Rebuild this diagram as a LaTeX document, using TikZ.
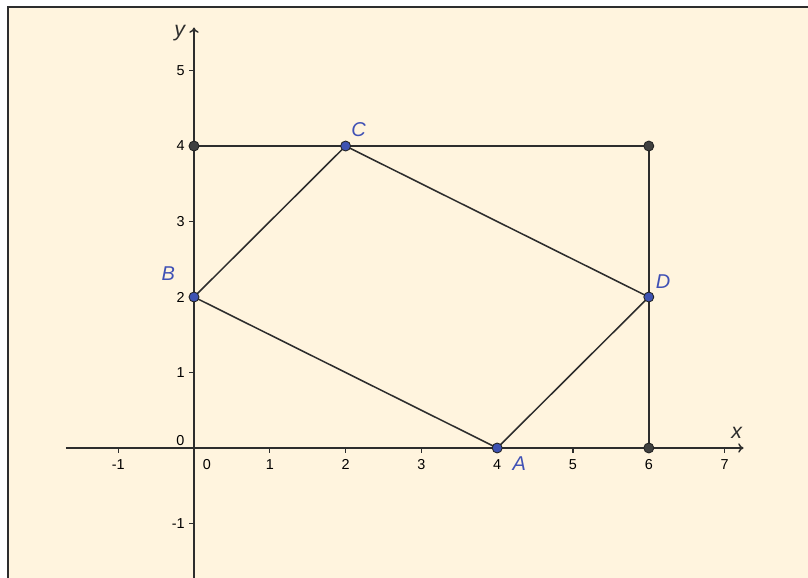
\documentclass[tikz,border=0pt]{standalone}
\usepackage{fontspec}
\setmainfont{Liberation Sans}
\usetikzlibrary{arrows.meta}
\definecolor{bg}{RGB}{255,244,222}
\definecolor{ln}{RGB}{45,45,45}
\definecolor{ptblue}{RGB}{62,82,178}
\definecolor{lblblue}{RGB}{64,81,181}
\definecolor{ptgray}{RGB}{64,64,64}
\tikzset{
  axisline/.style={ln, line width=1.1pt},
  segline/.style={ln, line width=1.15pt},
  tickmark/.style={ln, line width=0.9pt},
  ticklbl/.style={inner sep=0pt, font=\fontsize{10.8}{12}\selectfont, text=black},
  bpt/.style={circle, inner sep=0pt, minimum size=7.5pt, fill=ptblue, draw=ln!80!black, line width=0.65pt},
  gpt/.style={circle, inner sep=0pt, minimum size=7.5pt, fill=ptgray, draw=ln!80!black, line width=0.65pt},
  ptlbl/.style={inner sep=0pt, text=lblblue, font=\fontsize{15}{16}\selectfont\itshape},
  axlbl/.style={inner sep=0pt, text=ln, font=\fontsize{16}{18}\selectfont\itshape}
}
\begin{document}
\begin{tikzpicture}[x=0.75pt,y=0.75pt]
\useasboundingbox (0,0) rectangle (808,578);
\fill[white] (0,0) rectangle (808,578);
\fill[bg] (8,-10) rectangle (820,571);
\draw[ln, line width=1.1pt] (8,-10) -- (8,571) -- (820,571);
\begin{scope}[shift={(194,130)}, x=56.85pt, y=56.62pt]
  % axes
  \coordinate (xl) at (-1.69,0);
  \coordinate (xr) at (7.25,0);
  \coordinate (yb) at (0,-1.8);
  \coordinate (yt) at (0,5.57);
  \draw[axisline, -{To[length=4pt,width=7pt]}] (xl) -- (xr);
  \draw[axisline, -{To[length=4pt,width=7pt]}] (yb) -- (yt);
  % ticks
  \foreach \i in {-1,1,2,3,4,5,6,7} {
    \draw[tickmark] (\i,0) -- (\i,-0.06);
    \node[ticklbl] (xt\i) at (\i,-0.22) {\i};
  }
  \foreach \j in {-1,1,2,3,4,5} {
    \draw[tickmark] (0,\j) -- (-0.06,\j);
    \node[ticklbl, anchor=east] (yt\j) at (-0.12,\j) {\j};
  }
  \node[ticklbl] (x0) at (0.17,-0.22) {0};
  \node[ticklbl] (y0) at (-0.18,0.1) {0};
  \node[axlbl] (xlab) at (7.16,0.2) {x};
  \node[axlbl] (ylab) at (-0.19,5.5) {y};
  % points
  \coordinate (pA) at (4,0);
  \coordinate (pB) at (0,2);
  \coordinate (pC) at (2,4);
  \coordinate (pD) at (6,2);
  \coordinate (pE) at (0,4);
  \coordinate (pF) at (6,4);
  \coordinate (pG) at (6,0);
  \draw[segline] (pE) -- (pF) -- (pG);
  \draw[segline] (pA) -- (pD) -- (pC) -- (pB) -- cycle;
  \node[gpt] (E) at (pE) {};
  \node[gpt] (F) at (pF) {};
  \node[gpt] (G) at (pG) {};
  \node[bpt] (A) at (pA) {};
  \node[bpt] (B) at (pB) {};
  \node[bpt] (C) at (pC) {};
  \node[bpt] (D) at (pD) {};
  \node[ptlbl] (lA) at (4.29,-0.21) {A};
  \node[ptlbl] (lB) at (-0.34,2.31) {B};
  \node[ptlbl] (lC) at (2.17,4.22) {C};
  \node[ptlbl] (lD) at (6.19,2.2) {D};
\end{scope}
\end{tikzpicture}
\end{document}
